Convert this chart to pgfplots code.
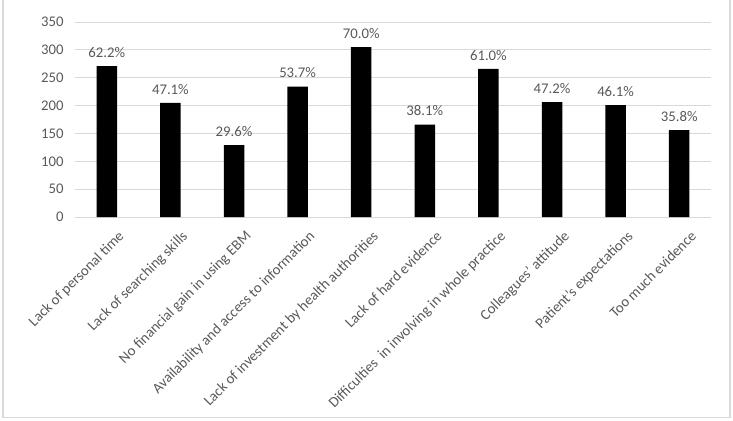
\documentclass[border=0pt]{standalone}
\usepackage{fontspec}
\setmainfont{Carlito}
\usepackage{pgfplots}
\pgfplotsset{compat=1.18}
\usepackage{pgfplotstable}
\definecolor{txtgray}{RGB}{89,89,89}
\definecolor{gridgray}{RGB}{217,217,217}

% counts (bar height) and share of respondents
\pgfplotstableread{
x y pct
0 271 62.2
1 205 47.1
2 129 29.6
3 234 53.7
4 305 70.0
5 166 38.1
6 266 61.0
7 206 47.2
8 201 46.1
9 156 35.8
}\barrierdata

\begin{document}
\begin{tikzpicture}[x=1bp,y=1bp]
\useasboundingbox (0,0) rectangle (733,420);
\draw[gridgray, line width=1.2bp] (3,2.5) rectangle (730,425);
\begin{axis}[
  at={(75bp,203bp)}, anchor=south west,
  width=636bp, height=195bp, scale only axis,
  xmin=-0.5, xmax=9.5, ymin=0, ymax=350,
  ytick={0,50,...,350},
  xtick={0,...,9},
  xticklabels={
    Lack of personal time,
    Lack of searching skills,
    No financial gain in using EBM,
    Availability and access to information,
    Lack of investment by health authorities,
    Lack of hard evidence,
    Difficulties~ in involving in whole practice,
    Colleagues’ attitude,
    Patient’s expectations,
    Too much evidence},
  axis line style={draw=none},
  tick style={draw=none},
  ymajorgrids,
  major grid style={gridgray, line width=1bp},
  /pgf/number format/assume math mode=true,
  tick label style={font=\fontsize{14.8}{17}\selectfont, text=txtgray},
  yticklabel style={xshift=-8bp},
  xticklabel style={rotate=45, anchor=north east, xshift=5bp, yshift=-10bp},
  ybar, bar width=20.5bp,
  point meta=explicit,
  nodes near coords={\pgfmathprintnumber[fixed,fixed zerofill,precision=1]{\pgfplotspointmeta}\%},
  every node near coord/.append style={font=\fontsize{14.8}{17}\selectfont, text=txtgray, anchor=south, yshift=5bp},
  clip=false,
]
\addplot[fill=black, draw=none] table[x=x, y=y, meta=pct] {\barrierdata};
\end{axis}
\end{tikzpicture}
\end{document}
